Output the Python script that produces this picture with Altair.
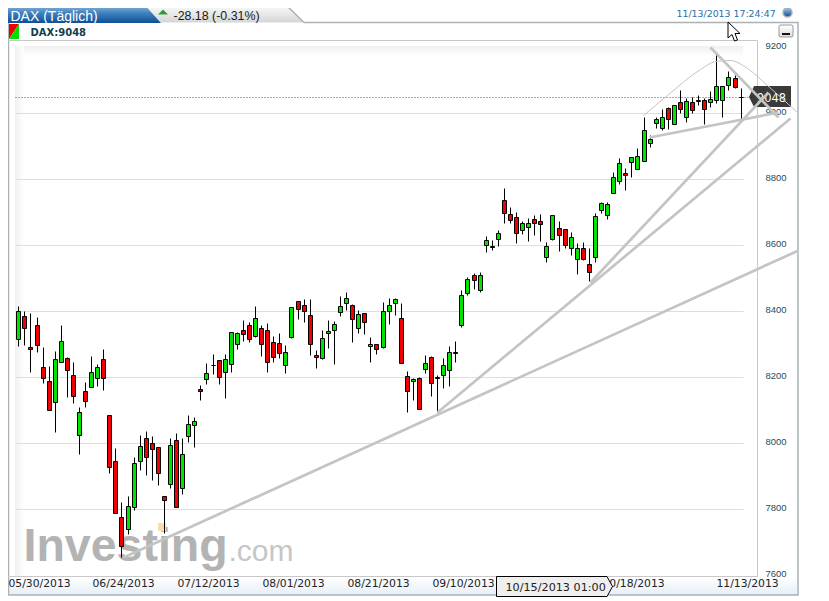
import altair as alt
import pandas as pd

# ---- candle values (high, low, open, close)
high = [8417,8402,8396,8384,8293,8234,8280,8357,8261,8246,8110,8187,8266,8240,8285,8085,7985,7821,7841,7960,
        8025,8036,8022,7988,7839,8015,8030,8015,8086,8081,8176,8244,8272,8251,8270,8336,8336,8374,8367,8415,
        8358,8364,8325,8334,8297,8412,8430,8436,8436,8282,8342,8374,8370,8445,8458,8421,8403,8394,8321,8300,
        8427,8439,8439,8424,8218,8197,8200,8268,8264,8206,8258,8296,8309,8464,8503,8515,8518,8627,8615,8646,
        8773,8715,8700,8673,8682,8691,8694,8609,8691,8673,8648,8639,8606,8609,8591,8697,8730,8730,8821,8864,
        8833,8867,8894,8990,8933,8988,9013,9020,9024,9071,9045,9050,9055,9045,9067,9182,9082,9127,9115,9076]
low = [8295,8298,8215,8276,8182,8100,8034,8245,8141,8123,7969,8111,8170,8175,8161,7911,7788,7655,7724,7798,
       7918,7905,7889,7873,7729,7864,7806,7847,8005,7990,8131,8179,8211,8179,8138,8215,8285,8309,8306,8321,
       8266,8217,8245,8258,8214,8318,8377,8368,8268,8228,8255,8288,8239,8385,8403,8308,8333,8330,8247,8270,
       8288,8361,8388,8242,8094,8130,8103,8212,8142,8094,8167,8175,8247,8351,8448,8467,8458,8579,8585,8597,
       8667,8667,8606,8633,8612,8630,8612,8548,8615,8582,8591,8570,8512,8554,8491,8548,8697,8679,8758,8785,
       8768,8808,8830,8854,8899,8954,8949,8951,8967,9000,8975,9000,9024,8967,9020,9030,8988,9071,9076,8975]
open_ = [8315,8385,8291,8358,8230,8188,8124,8245,8258,8206,8024,8158,8170,8197,8255,8085,7945,7776,7739,7808,
         7945,8015,8000,7988,7839,7876,8009,7864,8021,8055,8164,8194,8236,8251,8215,8239,8300,8342,8358,8324,
         8348,8342,8306,8303,8236,8321,8430,8418,8388,8267,8258,8333,8342,8397,8424,8418,8348,8394,8294,8300,
         8291,8400,8424,8379,8203,8188,8197,8224,8261,8200,8206,8221,8275,8358,8455,8509,8464,8600,8596,8618,
         8736,8694,8685,8645,8654,8679,8673,8564,8618,8651,8648,8591,8558,8591,8542,8564,8706,8691,8758,8794,
         8818,8851,8830,8854,8909,8970,8954,9015,8967,9033,8988,9033,9038,9039,9033,9039,9039,9085,9106,9050]
close = [8400,8348,8285,8297,8197,8100,8255,8309,8221,8142,8094,8127,8215,8230,8197,7927,7788,7690,7809,7939,
         7991,7958,7982,7909,7827,7994,7806,7967,8058,8067,8158,8212,8238,8200,8255,8336,8333,8330,8315,8379,
         8300,8245,8261,8273,8276,8412,8406,8400,8300,8261,8318,8339,8361,8415,8439,8376,8391,8367,8300,8285,
         8400,8418,8436,8242,8158,8194,8103,8242,8182,8197,8236,8276,8277,8448,8497,8494,8509,8615,8597,8636,
         8697,8676,8636,8667,8667,8667,8664,8597,8691,8630,8600,8624,8591,8558,8518,8688,8727,8724,8806,8848,
         8812,8867,8870,8948,8921,8982,8988,8982,9024,9012,9036,9009,9040,9012,9042,9082,9082,9109,9079,9048]

# ---- axes
y_ticks = [7600, 7800, 8000, 8200, 8400, 8600, 8800, 9000, 9200]
grid_values = [7800, 8000, 8200, 8400, 8600, 8800, 9000]
x_ticks = [3.4, 17.25, 31.25, 45.25, 59.25, 73.26, 101.3, 120]
x_labels = ["05/30/2013", "06/24/2013", "07/12/2013", "08/01/2013", "08/21/2013",
            "09/10/2013", "10/18/2013", "11/13/2013"]
last_price = [9048]

# ---- drawn trend tools: (bar number, price)
trend_lines = {
    "a": [(17.25, 7655.5), (128.45, 8586)],
    "c": [(69.0, 8095), (127.1, 8986)],
    "b": [(94.2, 8489), (123.5, 9064)],
    "d": [(103.9, 8928), (125.2, 9004)],
    "e": [(114.0, 9201), (125.2, 8989)],
}
arc_i = [102.9, 106.9, 112.3, 114.8, 117.2, 120.0, 123.3, 128.45]
arc_p = [8995, 9055, 9134, 9158, 9161, 9137, 9086, 9001]

candles = pd.DataFrame({"i": list(range(len(high))), "high": high, "low": low, "open": open_, "close": close})
candles["dir"] = ["up" if c >= o else "down" for o, c in zip(open_, close)]
lines = pd.DataFrame([{"k": k, "i": a, "p": b} for k, pts in trend_lines.items() for a, b in pts])
arc = pd.DataFrame({"i": arc_i, "p": arc_p})

W, H = 795, 588
x_scale = alt.Scale(domain=[-1.697, -1.697 + W / 6.07], nice=False, zero=False, padding=0, round=True)
y_scale = alt.Scale(domain=[9319.1 - H / 0.33, 9319.1], nice=False, zero=False, padding=0, round=True)
ONE = alt.Data(values=[{}])


def path(points, closed=True):
    # page coordinates; the chart is padded by half a pixel so that strokes land on whole pixels
    d = "M" + "L".join(f"{x - 8.5:g} {y - 8.5:g}" for x, y in points)
    return d + ("Z" if closed else "")


def shape(d, fill=None, stroke=None, width=1.0):
    kw = {}
    if fill is not None:
        kw["fill"] = fill
    if stroke is not None:
        kw["stroke"] = stroke
        kw["strokeWidth"] = width
    return alt.Chart(ONE).mark_point(shape=d, size=4, filled=fill is not None, opacity=1, **kw).encode(
        x=alt.value(0), y=alt.value(0))


def grad(*colors, horizontal=False):
    n = len(colors) - 1
    return alt.LinearGradient(
        gradient="linear",
        stops=[alt.GradientStop(color=c, offset=k / n) for k, c in enumerate(colors)],
        x1=0, y1=0, x2=1 if horizontal else 0, y2=0 if horizontal else 1,
    )


def label(text, x, y, **kw):
    return alt.Chart(ONE).mark_text(text=text, baseline="alphabetic", **kw).encode(
        x=alt.value(x - 8), y=alt.value(y - 8))


FRAME = "#a9b2b8"
layers = [
    # fades at the plot's top and left
    shape(path([(15, 46), (743, 46), (743, 56), (15, 56)]), fill=grad("#f0f0f0", "#ffffff")),
    shape(path([(15, 46), (24, 46), (24, 576), (15, 576)]), fill=grad("#f0f0f0", "#ffffff", horizontal=True)),
    # the date strip
    shape(path([(8, 577), (797, 577), (797, 595), (8, 595)]), fill=grad("#ffffff", "#e6eef7")),
    # frame
    shape(path([(8.5, 22.5), (8.5, 595), (798, 595), (798, 22.5), (304, 22.5)], closed=False), stroke=FRAME, width=1.5),
    shape(path([(8, 40.5), (757.5, 40.5), (757.5, 576.5), (8, 576.5)], closed=False), stroke="#c8c8c8"),
    # tabs
    shape(path([(143, 3), (284, 3), (304, 22.5), (161, 22.5)]), fill=grad("#ffffff", "#d6d6d6")),
    shape(path([(284, 3), (304, 22.5)], closed=False), stroke=FRAME, width=1.5),
    shape(path([(143, 3), (284, 3)], closed=False), stroke=FRAME),
    shape(path([(8, 3), (143, 3), (161, 23), (8, 23)]), fill=grad("#a6c6e4", "#3f82bf", "#0f4f96")),
    shape(path([(9, 24), (19, 24), (9, 39)]), fill="#f00000"),
    shape(path([(19, 24), (19, 39), (9, 39)]), fill="#00e000"),
    label("DAX (Täglich)", 10, 20, font="Liberation Sans", fontSize=14, fill="#ffffff", align="left"),
    shape(path([(158, 14.5), (168, 14.5), (163, 9.5)]), fill="#2f9b3a"),
    label("-28.18 (-0.31%)", 173, 19.5, font="Liberation Sans", fontSize=12.4, fill="#1a1a1a", align="left"),
    label("DAX:9048", 30, 35, font="DejaVu Sans", fontSize=10, fontWeight="bold", fill="#123f4a", align="left"),
    label("11/13/2013 17:24:47", 676, 16, font="DejaVu Sans", fontSize=9.4, fill="#2b6ea9", align="left"),
    # globe and minimise button
    alt.Chart(ONE).mark_circle(size=80, opacity=1, fill=grad("#9fc4e6", "#0d4a90"), stroke="#a8b0b8", strokeWidth=1.5)
    .encode(x=alt.value(787 - 8), y=alt.value(12 - 8)),
    shape(path([(780, 25), (792, 25), (793, 26), (793, 36), (792, 37), (780, 37), (779, 36), (779, 26)]),
          fill=grad("#ffffff", "#dcdcdc"), stroke="#9a9a9a"),
    shape(path([(782, 33), (790, 33), (790, 35), (782, 35)]), fill="#111111"),
    # watermark
    label("Investing", 23, 560, font="Liberation Sans", fontSize=46.5, fontWeight="bold", fill="#b3b3b3", align="left"),
    label(".com", 228, 560, font="Liberation Sans", fontSize=30, fill="#c6c6c6", align="left"),
    shape(path([(158, 523), (166, 523), (166, 531), (158, 531)]), fill="#fbdcae"),
    # grid and last price
    alt.Chart(pd.DataFrame({"p": grid_values})).mark_rule(color="#dddddd", strokeWidth=1).encode(
        y=alt.Y("p:Q", scale=y_scale, axis=None), x=alt.value(15 - 8), x2=alt.value(743 - 8)),
    # y axis labels
    alt.Chart(pd.DataFrame({"p": y_ticks})).mark_text(
        font="Liberation Sans", fontSize=9.5, fill="#2f4a55", align="left", baseline="middle", dy=-2).encode(
        y=alt.Y("p:Q", scale=y_scale, axis=None), x=alt.value(765 - 8), text=alt.Text("p:Q", format="d")),
    # x axis labels
    alt.Chart(pd.DataFrame({"i": x_ticks, "t": x_labels})).mark_text(
        font="DejaVu Sans", fontSize=10.8, fill="#222222", align="center", baseline="middle").encode(
        x=alt.X("i:Q", scale=x_scale, axis=None), y=alt.value(583.5 - 8), text="t:N"),
    alt.Chart(pd.DataFrame({"p": last_price})).mark_rule(color="#555555", strokeWidth=1, strokeDash=[1, 2]).encode(
        y=alt.Y("p:Q", scale=y_scale, axis=None), x=alt.value(15 - 8), x2=alt.value(757 - 8)),
    # candles
    alt.Chart(candles).mark_rule(color="#000000", strokeWidth=1).encode(
        x=alt.X("i:Q", scale=x_scale, axis=None),
        y=alt.Y("low:Q", scale=y_scale, axis=None),
        y2="high:Q"),
    alt.Chart(candles).mark_bar(size=4, stroke="#000000", strokeWidth=1, orient="vertical").encode(
        x=alt.X("i:Q", scale=x_scale, axis=None),
        y=alt.Y("open:Q", scale=y_scale, axis=None),
        y2="close:Q",
        fill=alt.Fill("dir:N", scale=alt.Scale(domain=["up", "down"], range=["#00e400", "#f00000"]), legend=None)),
    # price tag
    shape(path([(754, 86), (791, 86), (791, 107), (754, 107), (749, 97)]), fill="#3a3a3a"),
    label("9048", 771, 101, font="DejaVu Sans", fontSize=11.5, fill="#ffffff", align="center"),
    # trend tools
    alt.Chart(lines).mark_line(color="#c4c4c4", strokeWidth=2.7).encode(
        x=alt.X("i:Q", scale=x_scale, axis=None), y=alt.Y("p:Q", scale=y_scale, axis=None), detail="k:N"),
    alt.Chart(arc).mark_line(color="#c4c4c4", strokeWidth=1, interpolate="monotone").encode(
        x=alt.X("i:Q", scale=x_scale, axis=None), y=alt.Y("p:Q", scale=y_scale, axis=None)),
    # crosshair date tag
    shape(path([(496.5, 576.5), (607, 576.5), (612.5, 586.5), (607, 596.5), (496.5, 596.5)]),
          fill="#efefef", stroke="#000000"),
    label("10/15/2013 01:00", 505, 590, font="DejaVu Sans", fontSize=11.2, fill="#222222", align="left"),
    # mouse pointer
    shape(path([(728, 22), (728, 38), (732, 34.5), (734.5, 41), (737.5, 40), (735, 33.5), (740, 33.5)]),
          fill="#ffffff", stroke="#000000"),
]

chart = alt.layer(*layers).properties(
    width=W, height=H, autosize="none", background="#ffffff",
    padding={"left": 0.5, "top": 0.5, "right": 0, "bottom": 0},
).configure_view(stroke=None)

chart.save("out.html", embed_options={"renderer": "svg", "actions": False})
